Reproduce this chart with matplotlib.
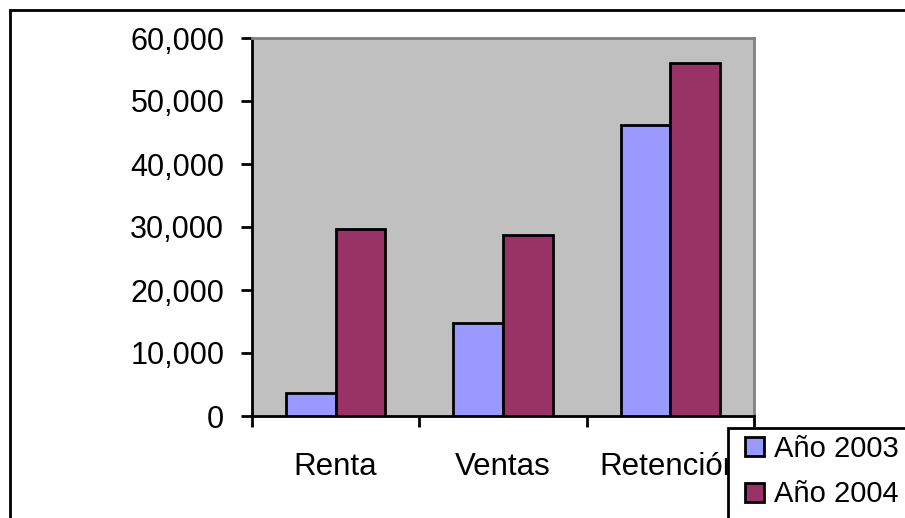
import numpy as np
import matplotlib.pyplot as plt
from matplotlib.patches import Rectangle

plt.rcParams['font.family'] = ['Liberation Sans', 'DejaVu Sans']

categories = ['Renta', 'Ventas', 'Retención']
series_names = ['Año 2003', 'Año 2004']
values_2003 = [3700, 14800, 46200]
values_2004 = [29700, 28800, 56000]
y_ticks = [0, 10000, 20000, 30000, 40000, 50000, 60000]

COLORS = ['#9999FF', '#993366']

fig = plt.figure(figsize=(9.05, 5.18), dpi=100)
# plot area in pixel coordinates of the reference
ax = fig.add_axes([252 / 905, 1 - 416 / 518, 502 / 905, 378 / 518])
ax.set_facecolor('#C0C0C0')

x = np.arange(len(categories))
width = 0.296
ax.bar(x - width / 2, values_2003, width, color=COLORS[0], edgecolor='black',
       linewidth=2, label=series_names[0], zorder=3)
ax.bar(x + width / 2, values_2004, width, color=COLORS[1], edgecolor='black',
       linewidth=2, label=series_names[1], zorder=3)

ax.set_xlim(-0.5, len(categories) - 0.5)
ax.set_ylim(0, 60000)
ax.set_yticks(y_ticks)
ax.set_yticklabels([f'{v:,}' for v in y_ticks], fontsize=22)

# category ticks sit on the boundaries, labels in the middle
ax.set_xticks(np.arange(len(categories) + 1) - 0.5)
ax.set_xticklabels([])
ax.set_xticks(x, minor=True)
ax.set_xticklabels(categories, minor=True, fontsize=22.5)
ax.tick_params(axis='x', which='minor', length=0, pad=26)
ax.tick_params(axis='x', which='major', length=8, width=2, direction='out')
ax.tick_params(axis='y', length=8, width=2, direction='out', pad=12)

for side in ['left', 'bottom']:
    ax.spines[side].set_linewidth(2)
    ax.spines[side].set_color('black')
for side in ['top', 'right']:
    ax.spines[side].set_linewidth(2)
    ax.spines[side].set_color('#808080')

# outer chart border
fig.patches.append(Rectangle((10 / 905, -0.1), 1.2, 1 - 10 / 518 + 0.1,
                             transform=fig.transFigure, fill=False,
                             edgecolor='black', linewidth=2))

# legend box runs off the bottom right corner
fig.patches.append(Rectangle((728 / 905, -0.1), 0.5, 0.1 + 1 - 428 / 518,
                             transform=fig.transFigure, facecolor='white',
                             edgecolor='black', linewidth=2, zorder=5))

leg = fig.legend(loc='upper left', bbox_to_anchor=(745 / 905, 1 - 435 / 518),
                 fontsize=21, frameon=False, handlelength=0.65,
                 handleheight=0.65, handletextpad=0.35, borderpad=0,
                 labelspacing=0.6, borderaxespad=0)
leg.set_zorder(10)
for h in leg.legend_handles:
    h.set_linewidth(2)

fig.savefig('out.png', dpi=100)
